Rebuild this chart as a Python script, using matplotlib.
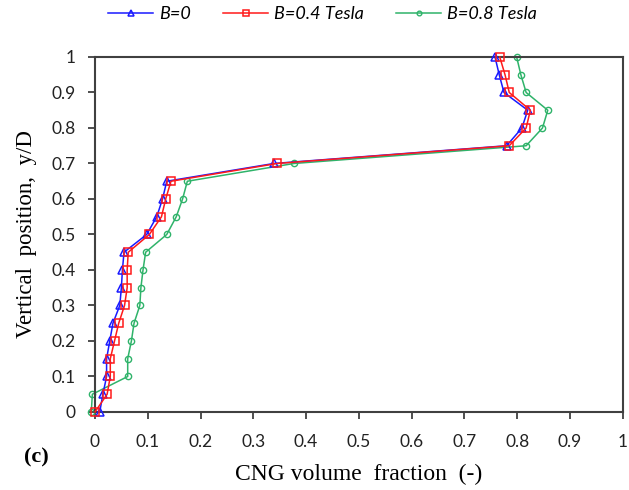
import numpy as np
import matplotlib
matplotlib.use('Agg')
import matplotlib.pyplot as plt

# Vertical positions (y/D)
y = [0, 0.05, 0.1, 0.15, 0.2, 0.25, 0.3, 0.35, 0.4, 0.45, 0.5,
     0.55, 0.6, 0.65, 0.7, 0.75, 0.8, 0.85, 0.9, 0.95, 1.0]

# CNG volume fraction for each magnetic field
b0 = [0.009, 0.015, 0.022, 0.022, 0.028, 0.034, 0.047, 0.050, 0.052, 0.055, 0.098,
      0.117, 0.128, 0.136, 0.339, 0.780, 0.809, 0.820, 0.775, 0.766, 0.758]
b04 = [0.000, 0.023, 0.029, 0.029, 0.037, 0.045, 0.056, 0.061, 0.061, 0.063, 0.103,
       0.126, 0.134, 0.144, 0.345, 0.785, 0.817, 0.825, 0.785, 0.777, 0.767]
b08 = [-0.007, -0.005, 0.062, 0.062, 0.069, 0.074, 0.085, 0.087, 0.091, 0.096, 0.136,
       0.154, 0.166, 0.175, 0.377, 0.817, 0.848, 0.858, 0.817, 0.807, 0.799]

xticks = np.arange(0, 1.01, 0.1)
yticks = np.arange(0, 1.01, 0.1)

def fmt(v):
    if abs(v) < 1e-9:
        return '0'
    if abs(v - 1) < 1e-9:
        return '1'
    return '%.1f' % v

fig = plt.figure(figsize=(6.29, 4.9), dpi=100)
ax = fig.add_axes([0.151, 0.1592, 0.839, 0.7245])

ax.plot(b0, y, color='#1a1aff', lw=1.1, marker='^', ms=6, mfc='none', mew=1.1,
        label='B=0', clip_on=False, zorder=3)
ax.plot(b04, y, color='#ff1a1a', lw=1.1, marker='s', ms=6, mfc='none', mew=1.1,
        label='B=0.4 Tesla', clip_on=False, zorder=4)
ax.plot(b08, y, color='#2fb36a', lw=1.1, marker='o', ms=4.5, mfc='none', mew=1.0,
        label='B=0.8 Tesla', clip_on=False, zorder=2)

ax.set_xlim(0, 1)
ax.set_ylim(0, 1)
ax.set_xticks(xticks)
ax.set_yticks(yticks)
ax.set_xticklabels([fmt(v) for v in xticks])
ax.set_yticklabels([fmt(v) for v in yticks])
ax.tick_params(direction='out', length=5, width=1.3, color='#404040',
               labelsize=12.5, labelcolor='#222222')
ax.tick_params(axis='x', pad=11)
ax.tick_params(axis='y', pad=9)
for lab in ax.get_xticklabels() + ax.get_yticklabels():
    lab.set_family('Lato')
for s in ax.spines.values():
    s.set_color('#404040')
    s.set_linewidth(1.5)

ax.set_xlabel('CNG volume  fraction  (-)', family='Liberation Serif', fontsize=17)
ax.xaxis.set_label_coords(0.499, -0.175)
ax.xaxis.label.set_va('center')
ax.set_ylabel('Vertical  position,  y/D', family='Liberation Serif', fontsize=16.5)
ax.yaxis.set_label_coords(-0.129, 0.501)
ax.yaxis.label.set_va('center')
fig.text(0.058, 0.067, '(c)', family='Liberation Serif', fontweight='bold', fontsize=16,
         ha='center', va='center')

leg = fig.legend(loc='center', bbox_to_anchor=(0.513, 0.971), ncol=3, frameon=False,
                 prop={'family': 'Lato', 'style': 'italic', 'size': 13},
                 handlelength=2.5, columnspacing=1.75, handletextpad=0.35, markerscale=0.75,
                 borderpad=0, borderaxespad=0)

fig.savefig('out.png', dpi=100)
